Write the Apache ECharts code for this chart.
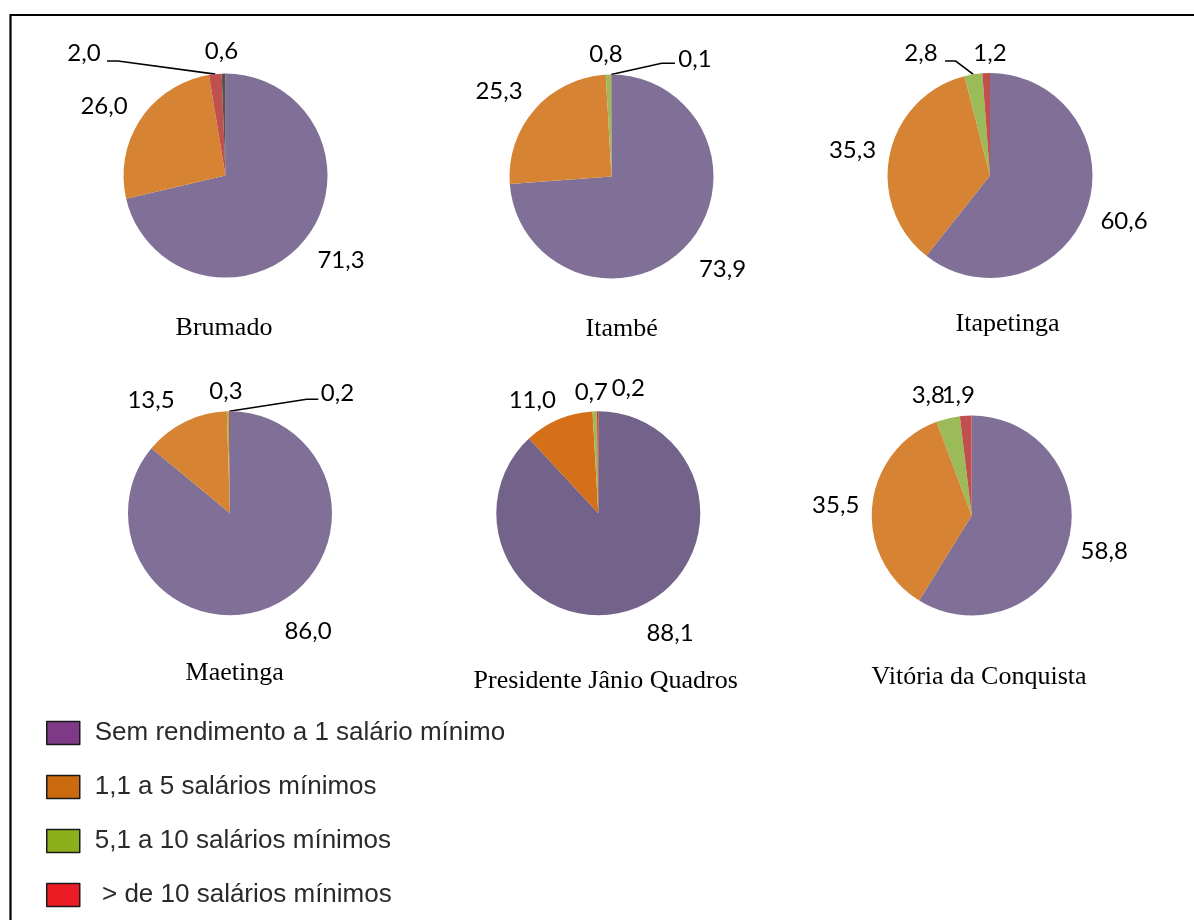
<!DOCTYPE html>
<html lang="pt-BR">
<head>
<meta charset="utf-8">
<title>Rendimento por município</title>
<script src="https://cdn.jsdelivr.net/npm/echarts@6/dist/echarts.min.js"></script>
<style>
  html, body { margin: 0; padding: 0; background: #ffffff; }
  #chart { width: 1194px; height: 920px; }
</style>
</head>
<body>
<div id="chart"></div>
<script>
// Faixas de rendimento (legenda)
const categories = [
  'Sem rendimento a 1 salário mínimo',
  '1,1 a 5 salários mínimos',
  '5,1 a 10 salários mínimos',
  '> de 10 salários mínimos'
];

// Municípios
const municipios = [
  'Brumado', 'Itambé', 'Itapetinga',
  'Maetinga', 'Presidente Jânio Quadros', 'Vitória da Conquista'
];

// Percentuais por faixa, na ordem de "categories"
const brumado = [71.3, 26.0, 2.0, 0.6];
const itambe = [73.9, 25.3, 0.8, 0.1];
const itapetinga = [60.6, 35.3, 2.8, 1.2];
const maetinga = [86.0, 13.5, 0.3, 0.2];
const presidenteJanioQuadros = [88.1, 11.0, 0.7, 0.2];
const vitoriaDaConquista = [58.8, 35.5, 3.8, 1.9];

const valores = [brumado, itambe, itapetinga, maetinga, presidenteJanioQuadros, vitoriaDaConquista];

// Cores
const ROXO = '#806f96', LARANJA = '#d68434', VERDE = '#9bbb59', VERMELHO = '#c0504d', CINZA = '#525252';
const paletaPadrao = [ROXO, LARANJA, VERDE, VERMELHO];
const coresLegenda = ['#7e3a86', '#cc6a10', '#8cb01a', '#ec1c24'];

// Posição de cada pizza, do título e dos rótulos (deslocamentos relativos ao centro)
const layoutPizzas = [
  { center: [225.5, 175.6], radius: 102, title: [224, 328],
    labels: [[115.5, 84.4], [-121.5, -69], [-141.5, -122], [-4, -124]],
    leader: { index: 2, elbow: [-107.5, -114.6], end: [-118.5, -114.6] },
    colors: [ROXO, LARANJA, VERMELHO, CINZA] },
  { center: [611.5, 176.5], radius: 102, title: [621.7, 329],
    labels: [[111, 93], [-112.5, -85], [-5.5, -122.5], [83.5, -117.5]],
    leader: { index: 3, elbow: [50.2, -113.2], end: [63.5, -113.2] },
    colors: paletaPadrao },
  { center: [990, 175.5], radius: 102.5, title: [1007.5, 324],
    labels: [[134, 45.7], [-137.5, -25], [-69, -122], [0, -122]],
    leader: { index: 2, elbow: [-34.3, -114.5], end: [-45, -114.5] },
    colors: paletaPadrao },
  { center: [230, 513.3], radius: 102, title: [234.7, 673],
    labels: [[78, 118], [-79, -113], [-4, -122], [107.5, -120.5]],
    leader: { index: 3, elbow: [76.7, -114], end: [88.3, -114] },
    colors: paletaPadrao },
  { center: [598.3, 513.3], radius: 102, title: [605.7, 681],
    labels: [[71.7, 119.5], [-66, -113], [-7, -121], [30, -125.5]],
    leader: null,
    colors: ['#736289', '#d56f1a', VERDE, '#ee2222'] },
  { center: [971.7, 515.5], radius: 100, title: [979, 677.5],
    labels: [[132.5, 35.5], [-136, -10.5], [-43.4, -120.5], [-13.4, -120.5]],
    leader: null,
    colors: paletaPadrao }
];

// Ponto médio do arco externo de uma fatia (início às 12h, sentido horário)
function pontoNoArco(vals, idx, cx, cy, r) {
  const total = vals.reduce((a, b) => a + b, 0);
  let antes = 0;
  for (let i = 0; i < idx; i++) antes += vals[i];
  const th = ((antes + vals[idx] / 2) / total) * 2 * Math.PI;
  return [cx + r * Math.sin(th), cy - r * Math.cos(th)];
}

const fmt = v => v.toFixed(1).replace('.', ',');

const series = valores.map((vals, s) => {
  const L = layoutPizzas[s];
  const [cx, cy] = L.center;
  return {
    type: 'pie',
    name: municipios[s],
    center: L.center,
    radius: L.radius,
    startAngle: 90,
    clockwise: true,
    avoidLabelOverlap: false,
    animation: false,
    silent: true,
    itemStyle: { borderWidth: 0 },
    label: {
      show: true,
      position: 'outside',
      color: '#000000',
      fontFamily: 'Lato',
      fontSize: 24,
      formatter: p => fmt(p.value)
    },
    labelLine: { show: false },
    labelLayout: function (params) {
      const off = L.labels[params.dataIndex];
      const out = {
        x: cx + off[0],
        y: cy + off[1],
        align: 'center',
        verticalAlign: 'middle'
      };
      if (L.leader && L.leader.index === params.dataIndex) {
        out.labelLinePoints = [
          pontoNoArco(vals, params.dataIndex, cx, cy, L.radius),
          [cx + L.leader.elbow[0], cy + L.leader.elbow[1]],
          [cx + L.leader.end[0], cy + L.leader.end[1]]
        ];
      }
      return out;
    },
    data: vals.map((v, i) => {
      const item = { name: categories[i], value: v, itemStyle: { color: L.colors[i] } };
      if (L.leader && L.leader.index === i) {
        item.labelLine = { show: true, length: 10, length2: 10, lineStyle: { color: '#000000', width: 1.6 } };
      }
      return item;
    })
  };
});

const titles = municipios.map((nome, s) => ({
  text: nome,
  left: layoutPizzas[s].title[0],
  top: layoutPizzas[s].title[1],
  textAlign: 'center',
  textVerticalAlign: 'middle',
  padding: 0,
  textStyle: {
    fontFamily: 'Liberation Serif',
    fontSize: 26,
    fontWeight: 'normal',
    color: '#000000'
  }
}));

const chart = echarts.init(document.getElementById('chart'), null, { renderer: 'canvas' });
chart.setOption({
  backgroundColor: '#ffffff',
  animation: false,
  title: titles,
  legend: {
    orient: 'vertical',
    left: 46,
    top: 720,
    padding: 0,
    itemWidth: 33,
    itemHeight: 23,
    itemGap: 28,
    selectedMode: false,
    icon: 'rect',
    data: categories.map((c, i) => ({
      name: c,
      icon: 'rect',
      itemStyle: { color: coresLegenda[i], borderColor: '#1a1a1a', borderWidth: 1.5 }
    })),
    formatter: n => (n.charAt(0) === '>' ? ' ' + n : n),
    textStyle: {
      fontFamily: 'Liberation Sans',
      fontSize: 26,
      lineHeight: 26,
      color: '#2a2a2a',
      padding: [0, 0, 0, 10]
    }
  },
  graphic: [{
    type: 'polyline',
    silent: true,
    shape: { points: [[10.5, 920], [10.5, 15], [1194, 15]] },
    style: { stroke: '#000000', lineWidth: 2.2, fill: null }
  }],
  series: series
});
</script>
</body>
</html>
